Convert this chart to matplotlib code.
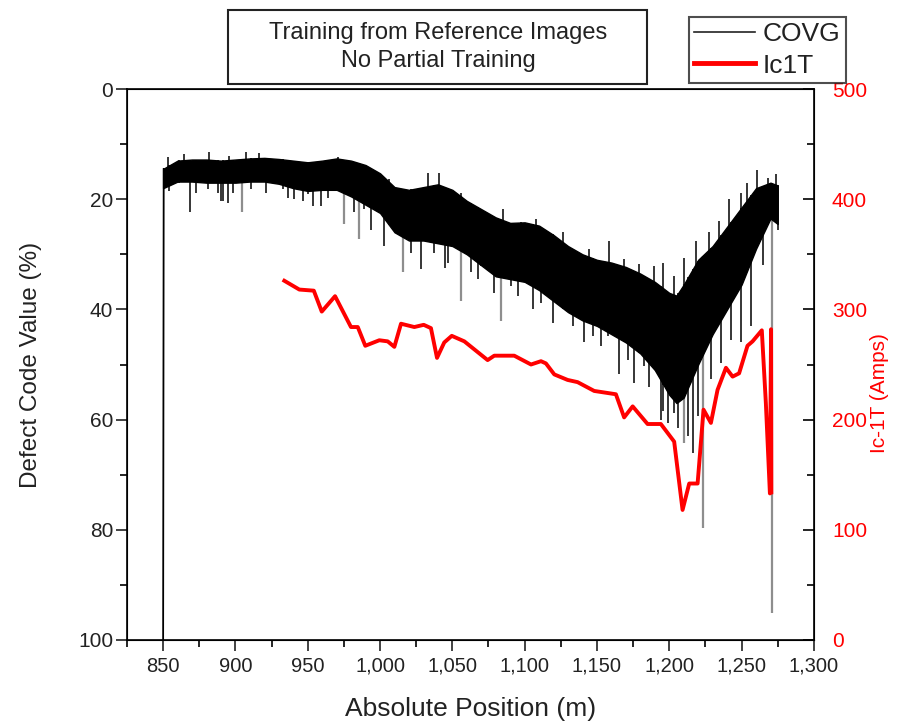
import numpy as np
import matplotlib
matplotlib.use("Agg")
import matplotlib.pyplot as plt
from matplotlib.ticker import MultipleLocator, FuncFormatter
from matplotlib.lines import Line2D
from matplotlib.patches import Rectangle

plt.rcParams['font.family'] = ['Liberation Sans', 'DejaVu Sans']

# COVG: envelope of the dense noisy trace (Defect Code Value, %)
cov_pos = [850, 860, 870, 880, 890, 900, 910, 920, 930, 940, 950, 960, 970,
           980, 990, 1000, 1010, 1020, 1030, 1040, 1050, 1060, 1070, 1080,
           1090, 1100, 1110, 1120, 1130, 1140, 1150, 1160, 1170, 1180, 1190,
           1200, 1205, 1210, 1220, 1230, 1240, 1250, 1260, 1270, 1275]
cov_top = [14.5, 13.0, 12.8, 12.8, 13.0, 12.8, 12.6, 12.5, 12.7, 13.0, 13.3,
           13.0, 12.6, 13.0, 13.8, 15.3, 17.8, 18.3, 17.8, 17.3, 18.3, 20.3,
           21.8, 23.3, 24.3, 24.2, 24.8, 26.5, 28.5, 30.0, 31.0, 31.5, 32.3,
           33.5, 35.0, 37.0, 37.5, 35.5, 31.0, 28.5, 25.0, 21.5, 18.0, 17.0,
           17.5]
cov_bot = [18.0, 16.8, 16.8, 17.0, 17.0, 17.0, 16.8, 16.8, 17.2, 18.0, 18.5,
           18.3, 18.3, 19.5, 21.0, 22.5, 26.0, 27.5, 27.5, 28.0, 28.5, 30.0,
           32.0, 34.0, 34.5, 35.0, 36.5, 38.5, 40.5, 42.0, 43.0, 44.5, 46.0,
           48.0, 51.0, 55.5, 57.0, 56.0, 50.0, 44.5, 40.0, 35.5, 29.0, 23.5,
           24.5]

# COVG spikes below the band (position m, value %)
low_pos = [854.4, 861.3, 868.9, 872.8, 880.9, 887.8, 890.0, 891.3, 894.7,
           898.2, 910.8, 921.2, 932.7, 936.2, 940.8, 946.6, 950.0, 953.5,
           959.2, 963.8, 982.2, 989.1, 993.8, 1003.0, 1021.4, 1028.3, 1037.5,
           1045.1, 1046.8, 1062.9, 1067.5, 1069.8, 1079.0, 1090.5, 1095.2,
           1105.5, 1111.3, 1119.4, 1126.3, 1133.2, 1141.2, 1147.0, 1152.7,
           1157.4, 1165.4, 1171.2, 1175.8, 1182.7, 1186.1, 1194.2, 1196.0,
           1198.8, 1203.4, 1206.0, 1213.0, 1216.1, 1219.6, 1228.8, 1235.7,
           1242.6, 1249.5, 1256.4, 1264.5, 1274.9]
low_val = [18.5, 17.0, 22.4, 18.8, 18.2, 18.8, 20.3, 20.3, 20.6, 18.8, 18.2,
           18.8, 18.2, 19.7, 20.0, 20.3, 19.1, 21.2, 21.2, 19.7, 22.4, 21.8,
           25.5, 28.5, 29.7, 32.7, 29.7, 32.4, 31.5, 33.3, 34.5, 32.1, 37.0,
           35.8, 37.6, 40.0, 38.8, 42.4, 40.0, 43.0, 46.0, 44.8, 46.7, 44.8,
           51.8, 49.1, 53.3, 50.3, 54.0, 60.0, 58.5, 60.6, 58.8, 61.5, 63.0,
           66.0, 59.4, 52.7, 49.7, 45.5, 46.0, 43.0, 32.0, 25.5]
# long grey spikes
grey_pos = [904.6, 975.3, 985.7, 1015.7, 1056.0, 1083.6, 1210.3, 1223.0,
            1271.0]
grey_val = [22.4, 24.5, 27.3, 33.3, 38.5, 42.1, 64.2, 79.7, 95.1]
# spikes above the band
high_pos = [853.2, 864.7, 882.0, 895.8, 907.4, 916.6, 971.2, 1006.4,
            1014.5, 1033.0, 1041.0, 1056.0, 1084.8, 1097.4, 1107.8, 1126.3,
            1144.7, 1158.5, 1168.9, 1179.2, 1189.6, 1196.0, 1203.4, 1210.3,
            1218.4, 1227.6, 1234.5, 1241.5, 1249.5, 1254.1, 1260.6, 1268.0,
            1273.7]
high_val = [12.4, 11.8, 11.5, 12.1, 11.4, 11.6, 12.3, 16.4, 18.2, 15.2,
            15.2, 18.8, 21.8, 24.2, 23.6, 26.0, 29.1, 27.6, 30.9, 31.8, 32.1,
            31.5, 33.9, 30.6, 27.6, 26.0, 23.9, 20.0, 18.8, 17.0, 14.7, 16.1,
            15.5]

# Ic1T (Amps)
ic_pos = [933.8, 944.2, 954.2, 959.7, 968.9, 979.9, 984.6, 989.8, 999.5,
          1005.3, 1009.9, 1014.5, 1023.7, 1030.2, 1035.2, 1039.4, 1044.4,
          1049.6, 1058.3, 1074.4, 1079.0, 1092.8, 1104.4, 1111.3, 1114.7,
          1120.5, 1129.7, 1136.6, 1148.1, 1163.1, 1168.8, 1174.7, 1185.0,
          1194.2, 1203.4, 1209.2, 1213.8, 1219.6, 1223.7, 1228.8, 1233.4,
          1239.2, 1243.8, 1248.3, 1254.1, 1257.6, 1264.0, 1266.8, 1269.6,
          1270.4, 1270.6]
ic_val = [326, 318, 317, 298, 312, 284, 284, 267, 272, 271, 266, 287, 284,
          286, 283, 256, 270, 276, 271, 254, 258, 258, 250, 253, 251, 241,
          236, 234, 226, 223, 202, 212, 196, 196, 180, 118, 142, 142, 209,
          197, 227, 247, 239, 242, 267, 271, 281, 215, 133, 282, 134]

fig = plt.figure(figsize=(9.05, 7.23), dpi=100)
ax = fig.add_axes([0.1403, 0.1148, 0.759, 0.7621])

# start of the trace
ax.plot([850, 850.4], [100, 14.5], color='black', lw=1.3, zorder=2)
ax.vlines(grey_pos, np.interp(grey_pos, cov_pos, cov_top), grey_val,
          color='#8e8e8e', lw=1.6, zorder=1)
ax.fill_between(cov_pos, cov_top, cov_bot, color='black', lw=1.0, zorder=2)
ax.vlines(low_pos, np.interp(low_pos, cov_pos, cov_top), low_val,
          color='black', lw=1.1, zorder=2)
ax.vlines(high_pos, np.interp(high_pos, cov_pos, cov_bot), high_val,
          color='black', lw=1.1, zorder=2)

ax.set_xlim(825, 1300)
ax.set_ylim(100, 0)
ax.xaxis.set_major_locator(MultipleLocator(50))
ax.xaxis.set_minor_locator(MultipleLocator(25))
ax.xaxis.set_major_formatter(FuncFormatter(lambda v, p: f'{v:,.0f}'))
ax.yaxis.set_major_locator(MultipleLocator(20))
ax.yaxis.set_minor_locator(MultipleLocator(10))
ax.tick_params(which='major', direction='out', length=8, width=1.2,
               colors='#222222')
ax.tick_params(which='minor', direction='out', length=5, width=1.2)
ax.tick_params(axis='x', labelsize=14.5, pad=4)
ax.tick_params(axis='y', labelsize=15, pad=2)
ax.tick_params(axis='y', which='both', right=False)
ax.tick_params(axis='x', which='both', top=False)
ax.set_xlabel('Absolute Position (m)', fontsize=19, color='#222222')
ax.set_ylabel('Defect Code Value (%)', fontsize=17.5, color='#222222')
ax.yaxis.set_label_coords(-0.124, 0.5)
ax.xaxis.set_label_coords(0.5, -0.1035)
for s in ax.spines.values():
    s.set_linewidth(1.2)

ax2 = ax.twinx()
ax2.plot(ic_pos, ic_val, color='red', lw=2.8, zorder=3)
ax2.set_ylim(0, 500)
ax2.yaxis.set_major_locator(MultipleLocator(100))
ax2.yaxis.set_minor_locator(MultipleLocator(50))
ax2.tick_params(axis='y', which='major', direction='in', length=8, width=1.2,
                labelcolor='red', labelsize=15, pad=13)
ax2.tick_params(axis='y', which='minor', direction='in', length=5, width=1.2)
ax2.set_ylabel('Ic-1T (Amps)', color='red', fontsize=15)
ax2.yaxis.set_label_coords(1.082, 0.448)

# title box
fig.patches.append(Rectangle((0.2519, 0.8838), 0.463, 0.1024,
                             transform=fig.transFigure, fc='white',
                             ec='#222222', lw=1.5))
fig.text(0.484, 0.9544, 'Training from Reference Images', ha='center',
         va='center', fontsize=17, color='#222222')
fig.text(0.484, 0.9156, 'No Partial Training', ha='center', va='center',
         fontsize=17, color='#222222')

handles = [Line2D([], [], color='#222222', lw=1.2),
           Line2D([], [], color='red', lw=3.5)]
leg = fig.legend(handles, ['COVG', 'Ic1T'], loc='upper left',
                 bbox_to_anchor=(0.7613, 0.9765), fontsize=19,
                 frameon=True, fancybox=False, handlelength=2.3,
                 handletextpad=0.3, borderpad=0.2, labelspacing=0.28,
                 borderaxespad=0)
leg.get_frame().set_edgecolor('#222222')
leg.get_frame().set_linewidth(1.5)
for t in leg.get_texts():
    t.set_color('#222222')

fig.savefig('out.png', dpi=100)
